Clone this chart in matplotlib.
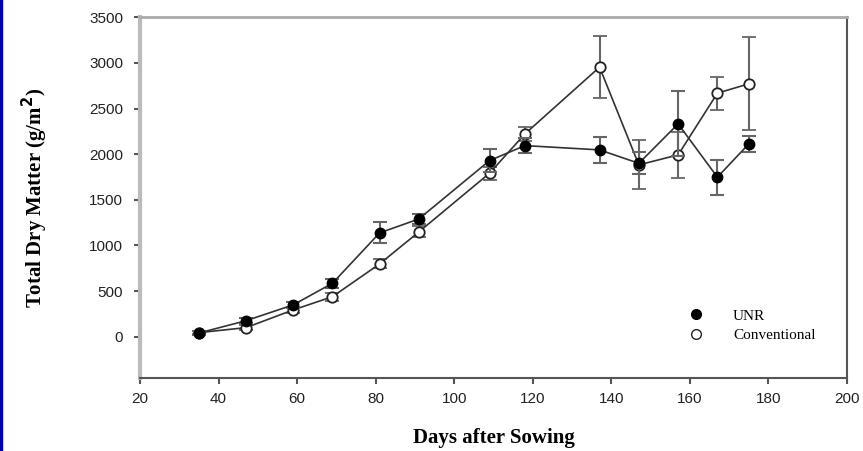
import matplotlib.pyplot as plt
from matplotlib.lines import Line2D

# days after sowing
days = [35, 47, 59, 69, 81, 91, 109, 118, 137, 147, 157, 167, 175]

# total dry matter (g/m2)
unr = [40, 175, 348, 585, 1137, 1290, 1930, 2094, 2047, 1900, 2332, 1748, 2113]
unr_err = [20, 30, 35, 50, 115, 50, 130, 80, 145, 120, 355, 190, 90]

conventional = [44, 99, 293, 438, 797, 1148, 1792, 2222, 2954, 1883, 1992, 2669, 2771]
conv_err = [20, 25, 35, 45, 50, 60, 70, 80, 340, 270, 250, 180, 510]

x_ticks = [20, 40, 60, 80, 100, 120, 140, 160, 180, 200]
y_ticks = [0, 500, 1000, 1500, 2000, 2500, 3000, 3500]

fig = plt.figure(figsize=(8.63, 4.51), dpi=100)
ax = fig.add_axes([0.1622, 0.1625, 0.8193, 0.7991])

# conventional first so UNR markers sit on top
ax.errorbar(days, conventional, yerr=conv_err, fmt='-o', color='#333333',
            mfc='white', mec='#222222', ms=7.5, mew=1.3, lw=1.2,
            ecolor='#666666', elinewidth=1.5, capsize=5, capthick=1.5, zorder=2)
ax.errorbar(days, unr, yerr=unr_err, fmt='-o', color='#333333',
            mfc='black', mec='black', ms=7.5, lw=1.2,
            ecolor='#666666', elinewidth=1.5, capsize=5, capthick=1.5, zorder=3)

ax.set_xlim(20, 200)
ax.set_ylim(-450, 3500)
ax.set_xticks(x_ticks)
ax.set_yticks(y_ticks)

ax.tick_params(axis='both', direction='out', length=4, width=1.5, colors='#555555',
               labelcolor='#222222', labelsize=11)
ax.tick_params(axis='y', pad=8)
ax.tick_params(axis='x', pad=6)
for lbl in ax.get_xticklabels() + ax.get_yticklabels():
    lbl.set_family('Liberation Sans')

ax.spines['left'].set_color('#bbbbbb')
ax.spines['left'].set_linewidth(3)
ax.spines['bottom'].set_color('#555555')
ax.spines['bottom'].set_linewidth(1.5)
ax.spines['top'].set_color('#aaaaaa')
ax.spines['top'].set_linewidth(2)
ax.spines['right'].set_color('#555555')
ax.spines['right'].set_linewidth(1.5)

ax.set_xlabel('Days after Sowing', family='Liberation Serif', fontweight='bold',
              fontsize=15, labelpad=16)
ax.set_ylabel('Total Dry Matter (g/m$^\\mathbf{2}$)', family='Liberation Serif',
              fontweight='bold', fontsize=15, labelpad=28)

handles = [
    Line2D([], [], ls='none', marker='o', mfc='black', mec='black', ms=7),
    Line2D([], [], ls='none', marker='o', mfc='white', mec='#222222', ms=7),
]
ax.legend(handles, ['UNR', 'Conventional'], loc='lower right',
          bbox_to_anchor=(0.975, 0.06), frameon=False, handletextpad=1.4,
          labelspacing=0.4, prop={'family': 'Liberation Serif', 'size': 11})

# blue left edge of the original screenshot
fig.add_artist(Line2D([0.0015, 0.0015], [0, 1], color='#0000aa', lw=2.5,
                      transform=fig.transFigure))

fig.savefig('out.png', dpi=100)
